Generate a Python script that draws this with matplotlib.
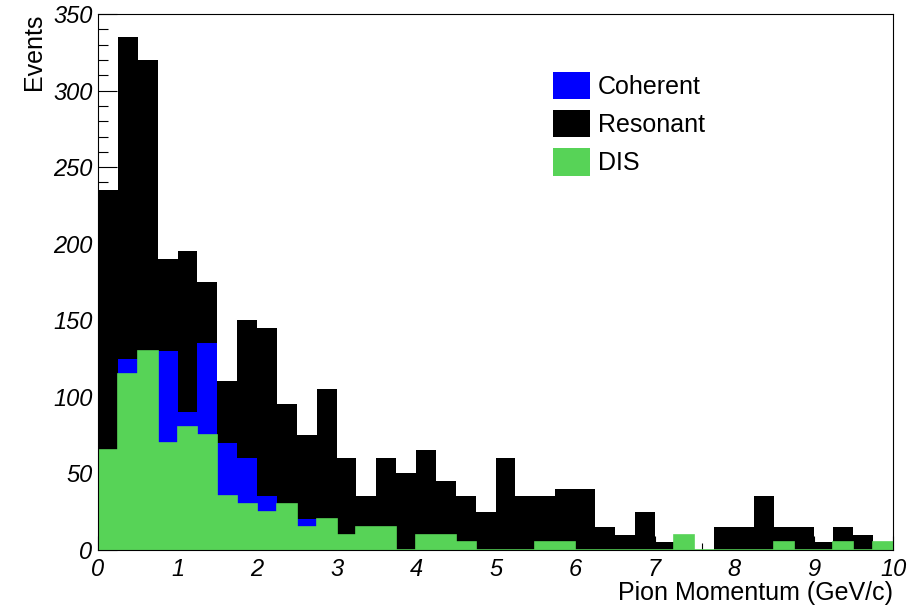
import numpy as np
import matplotlib
matplotlib.use("Agg")
import matplotlib.pyplot as plt
from matplotlib.patches import Patch
from matplotlib.ticker import MultipleLocator

plt.rcParams['font.family'] = ['Liberation Sans', 'DejaVu Sans']

# 40 bins of 0.25 GeV/c between 0 and 10
bin_edges = np.linspace(0, 10, 41)

# events per bin for each interaction channel
dis = [65, 115, 130, 70, 80, 75, 35, 30, 25, 30,
       15, 20, 10, 15, 15, 0, 10, 10, 5, 0,
       0, 0, 5, 5, 0, 0, 0, 0, 0, 10,
       0, 0, 0, 0, 5, 0, 0, 5, 0, 5]
coherent = [0, 10, 0, 60, 10, 60, 35, 30, 10, 0,
            5, 0, 0, 0, 0, 0, 0, 0, 0, 0,
            0, 0, 0, 0, 0, 0, 0, 0, 0, 0,
            0, 0, 0, 0, 0, 0, 0, 0, 0, 0]
total = [235, 335, 320, 190, 195, 175, 110, 150, 145, 95,
         75, 105, 60, 35, 60, 50, 65, 45, 35, 25,
         60, 35, 35, 40, 40, 15, 10, 25, 5, 10,
         0, 15, 15, 35, 15, 15, 5, 15, 10, 5]
resonant = [t - c - d for t, c, d in zip(total, coherent, dis)]

labels = ['Coherent', 'Resonant', 'DIS']
colors = {'Coherent': '#0000ff', 'Resonant': '#000000', 'DIS': '#57d357'}

dis_arr = np.array(dis)
coh_top = dis_arr + np.array(coherent)
res_top = coh_top + np.array(resonant)

fig = plt.figure(figsize=(9.16, 6.11), dpi=100)
ax = fig.add_axes([0.107, 0.100, 0.868, 0.877])

# stacked histogram: DIS at the bottom, coherent above it, resonant on top
ax.stairs(dis_arr, bin_edges, baseline=0, fill=True, color=colors['DIS'], lw=0)
ax.stairs(coh_top, bin_edges, baseline=dis_arr, fill=True, color=colors['Coherent'], lw=0)
ax.stairs(res_top, bin_edges, baseline=coh_top, fill=True, color=colors['Resonant'], lw=0)
ax.stairs(dis_arr, bin_edges, baseline=None, color=colors['DIS'], lw=1.2)

ax.set_xlim(0, 10)
ax.set_ylim(0, 350)
ax.set_axisbelow(True)

ax.xaxis.set_major_locator(MultipleLocator(1))
ax.xaxis.set_minor_locator(MultipleLocator(0.2))
ax.yaxis.set_major_locator(MultipleLocator(50))
ax.yaxis.set_minor_locator(MultipleLocator(10))
ax.tick_params(axis='both', which='both', direction='in', top=False, right=False,
               labelsize=17, width=0.8)
ax.tick_params(axis='x', which='major', length=10, pad=6)
ax.tick_params(axis='x', which='minor', length=5)
ax.tick_params(axis='y', which='major', length=14, pad=4)
ax.tick_params(axis='y', which='minor', length=7)
for lab in ax.get_xticklabels() + ax.get_yticklabels():
    lab.set_fontstyle('italic')

for sp in ax.spines.values():
    sp.set_linewidth(0.8)

ax.set_xlabel('Pion Momentum (GeV/c)', fontsize=18, loc='right')
ax.xaxis.set_label_coords(1.0, -0.058)
ax.set_ylabel('Events', fontsize=18, loc='top')
ax.yaxis.set_label_coords(-0.066, 1.0)

handles = [Patch(facecolor=colors[n], edgecolor='none') for n in labels]
ax.legend(handles, labels, loc='upper left', bbox_to_anchor=(0.572, 0.892),
          frameon=False, fontsize=18, handlelength=1.48, handleheight=1.3,
          handletextpad=0.32, labelspacing=0.44, borderpad=0, borderaxespad=0)

fig.savefig('out.png', dpi=100)
